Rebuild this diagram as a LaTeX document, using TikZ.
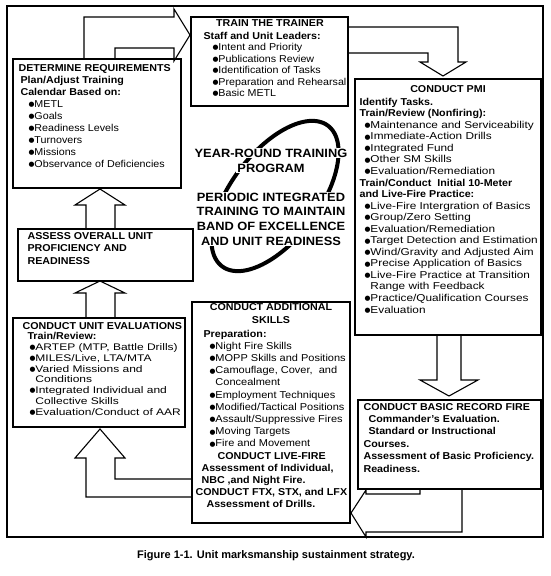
\documentclass[tikz,border=0pt]{standalone}
\usepackage{fontspec}
\setmainfont{Liberation Sans}[FakeStretch=1.07]
\newfontfamily\fsA{Liberation Sans}[FakeStretch=1.10]
\newfontfamily\fsB{Liberation Sans}[FakeStretch=1.25]
\newfontfamily\fsC{Liberation Sans}[FakeStretch=1.18]
\newfontfamily\capfont{Liberation Sans}
\newfontfamily\bulfont{DejaVu Sans}
\usetikzlibrary{fit}
\newcommand\bul{\raisebox{0.7pt}{\bulfont\fontsize{6.8}{6.8}\selectfont ●}}
\begin{document}
\begin{tikzpicture}[x=1pt,y=-1pt,line width=1.1pt,line join=miter,
  boxst/.style={draw,line width=1.1pt,inner sep=0pt},
  txt/.style={anchor=north west,inner sep=0pt,align=left,font=\fontsize{10}{12}\selectfont},
  hd/.style={inner sep=0pt,font=\bfseries\fontsize{10}{12}\selectfont},
  ctr/.style={fill=white,inner sep=1pt,font=\bfseries\fontsize{12}{14.7}\selectfont}]
\useasboundingbox (0,0) rectangle (550,576);
\fill[white] (0,0) rectangle (550,576);
% frame and boxes
\node[boxst,fit={(7,6) (543,537)}] (frame) {};
\node[boxst,fit={(13,59) (181,188)}] (dr) {};
\node[boxst,fit={(191,17) (348,106)}] (ttt) {};
\node[boxst,fit={(355,79) (541,335)}] (pmi) {};
\node[boxst,fit={(358,400) (541,489)}] (brf) {};
\node[boxst,fit={(18,229) (193,281)}] (asa) {};
\node[boxst,fit={(13,318) (185,427)}] (cue) {};
\node[boxst,fit={(192,302) (350,523)}] (add) {};
% block arrows
\draw (84,0 |- dr.north) -- (84,17) -- (174,17) -- (174,9) -- (190,35) -- (174,61) -- (174,48) -- (115,48) -- (115,0 |- dr.north);
\draw (0,27 -| ttt.east) -- (458,27) -- (458,62) -- (466,62) -- (443,76) -- (420,62) -- (428,62) -- (428,53) -- (0,53 -| ttt.east);
\draw (437,0 |- pmi.south) -- (437,380) -- (420,380) -- (449,396) -- (478,380) -- (461,380) -- (461,0 |- pmi.south);
\draw (420,0 |- brf.south) -- (420,494) -- (366,494) -- (366,490) -- (351,513) -- (366,537) -- (366,532) -- (462,532) -- (462,0 |- brf.south);
\draw (0,479 -| add.west) -- (115,479) -- (115,458) -- (125,458) -- (100,429) -- (75,458) -- (86,458) -- (86,497) -- (0,497 -| add.west);
\draw (86,0 |- cue.north) -- (86,293) -- (75,293) -- (100,281) -- (125,293) -- (115,293) -- (115,0 |- cue.north);
\draw (86,0 |- asa.north) -- (86,205) -- (75,205) -- (100,189) -- (125,205) -- (115,205) -- (115,0 |- asa.north);
% central loop
\draw[line width=4pt] plot[domain=0:360,samples=121] ({275+52.98*cos(\x)-35.16*sin(\x)},{196-70.31*cos(\x)-26.49*sin(\x)}) -- cycle;
\node[ctr] (yr) at (271,153) {YEAR-ROUND TRAINING};
\node[ctr] (pg) at (271,168) {PROGRAM};
\node[ctr,align=center] (pit) at (271,219) {PERIODIC INTEGRATED\\TRAINING TO MAINTAIN\\BAND OF EXCELLENCE\\AND UNIT READINESS};
% texts
\node[txt] (drt) at (18,62.6) {\rule{0pt}{8pt}\textbf{DETERMINE REQUIREMENTS}\\
\hspace*{2pt}\textbf{Plan/Adjust Training}\\
\hspace*{2pt}\textbf{Calendar Based on:}\\
\hspace*{10pt}\bul METL\\
\hspace*{10pt}\bul Goals\\
\hspace*{10pt}\bul Readiness Levels\\
\hspace*{10pt}\bul Turnovers\\
\hspace*{10pt}\bul Missions\\
\hspace*{10pt}\bul Observance of Deficiencies};
\node[hd] (ttth) at (270,23) {TRAIN THE TRAINER};
\node[txt,font=\fontsize{10}{11.5}\selectfont] (tttt) at (203,30.6) {\rule{0pt}{8pt}\textbf{Staff and Unit Leaders:}\\
\hspace*{9pt}\bul Intent and Priority\\
\hspace*{9pt}\bul Publications Review\\
\hspace*{9pt}\bul Identification of Tasks\\
\hspace*{9pt}\bul Preparation and Rehearsal\\
\hspace*{9pt}\bul Basic METL};
\node[hd] (pmih) at (448,89) {CONDUCT PMI};
\node[txt,font=\fontsize{10}{11.55}\selectfont] (pmit) at (359,96.6) {\rule{0pt}{8pt}\textbf{Identify Tasks.}\\
\textbf{Train/Review (Nonfiring):}\\
\hspace*{5pt}\bul{\fsC Maintenance and Serviceability}\\
\hspace*{5pt}\bul{\fsC Immediate-Action Drills}\\
\hspace*{5pt}\bul{\fsC Integrated Fund}\\
\hspace*{5pt}\bul{\fsC Other SM Skills}\\
\hspace*{5pt}\bul{\fsC Evaluation/Remediation}\\
\textbf{Train/Conduct\ \ Initial 10-Meter}\\
\textbf{and Live-Fire Practice:}\\
\hspace*{5pt}\bul{\fsC Live-Fire Intergration of Basics}\\
\hspace*{5pt}\bul{\fsC Group/Zero Setting}\\
\hspace*{5pt}\bul{\fsC Evaluation/Remediation}\\
\hspace*{5pt}\bul{\fsC Target Detection and Estimation}\\
\hspace*{5pt}\bul{\fsC Wind/Gravity and Adjusted Aim}\\
\hspace*{5pt}\bul{\fsC Precise Application of Basics}\\
\hspace*{5pt}\bul{\fsC Live-Fire Practice at Transition}\\
\hspace*{5pt}\phantom{\bul}{\fsC Range with Feedback}\\
\hspace*{5pt}\bul{\fsC Practice/Qualification Courses}\\
\hspace*{5pt}\bul{\fsC Evaluation}};
\node[txt,font=\bfseries\fontsize{10}{12.4}\selectfont] (brft) at (363,401.6) {\rule{0pt}{8pt}\textbf{CONDUCT BASIC RECORD FIRE}\\
\hspace*{5pt}\textbf{Commander's Evaluation.}\\
\hspace*{5pt}\textbf{Standard or Instructional}\\
\textbf{Courses.}\\
\textbf{Assessment of Basic Proficiency.}\\
\textbf{Readiness.}};
\node[txt,font=\fontsize{10}{12.5}\selectfont] (asat) at (27,230.6) {\rule{0pt}{8pt}\textbf{ASSESS OVERALL UNIT}\\
\textbf{PROFICIENCY AND}\\
\textbf{READINESS}};
\node[txt,font=\fontsize{9.6}{10.75}\selectfont] (cuet) at (22,320.6) {\rule{0pt}{8pt}\textbf{\fontsize{10}{10.75}\selectfont CONDUCT UNIT EVALUATIONS}\\
\hspace*{5pt}\textbf{\fontsize{10}{10.75}\selectfont Train/Review:}\\
\hspace*{7pt}\bul{\fsB ARTEP (MTP, Battle Drills)}\\
\hspace*{7pt}\bul{\fsB MILES/Live, LTA/MTA}\\
\hspace*{7pt}\bul{\fsB Varied Missions and}\\
\hspace*{7pt}\phantom{\bul}{\fsB Conditions}\\
\hspace*{7pt}\bul{\fsB Integrated Individual and}\\
\hspace*{7pt}\phantom{\bul}{\fsB Collective Skills}\\
\hspace*{7pt}\bul{\fsB Evaluation/Conduct of AAR}};
\node[hd,align=center,font=\bfseries\fontsize{10}{13}\selectfont] (addh) at (271,313.5) {CONDUCT ADDITIONAL\\SKILLS};
\node[txt,font=\fontsize{10}{12.2}\selectfont] (addt) at (195,328.6) {\rule{0pt}{8pt}\hspace*{8pt}\textbf{Preparation:}\\
\hspace*{14pt}\bul{\fsA Night Fire Skills}\\
\hspace*{14pt}\bul{\fsA MOPP Skills and Positions}\\
\hspace*{14pt}\bul{\fsA Camouflage, Cover,\ \ and}\\
\hspace*{14pt}\phantom{\bul}{\fsA Concealment}\\
\hspace*{14pt}\bul{\fsA Employment Techniques}\\
\hspace*{14pt}\bul{\fsA Modified/Tactical Positions}\\
\hspace*{14pt}\bul{\fsA Assault/Suppressive Fires}\\
\hspace*{14pt}\bul{\fsA Moving Targets}\\
\hspace*{14pt}\bul{\fsA Fire and Movement}\\
\hspace*{22pt}\textbf{CONDUCT LIVE-FIRE}\\
\hspace*{6pt}\textbf{Assessment of Individual,}\\
\hspace*{6pt}\textbf{NBC ,and Night Fire.}\\
\textbf{CONDUCT FTX, STX, and LFX}\\
\hspace*{11pt}\textbf{Assessment of Drills.}};
\node[inner sep=0pt,font=\capfont\bfseries\fontsize{11}{13}\selectfont] (cap) at (276,556) {Figure 1-1. Unit marksmanship sustainment strategy.};
\end{tikzpicture}
\end{document}
